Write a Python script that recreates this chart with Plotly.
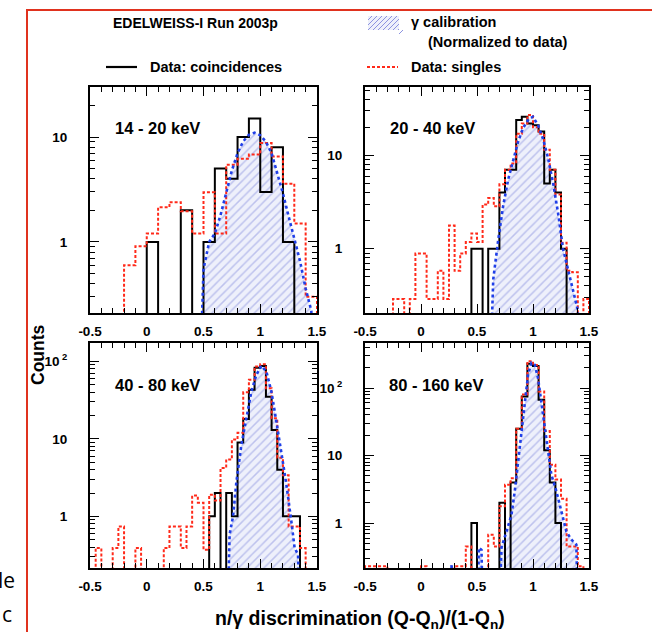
import numpy as np
import plotly.graph_objects as go

# ---------------- data ----------------
FLOOR = 0.01  # below every axis range: zero counts drop out of view

# 14 - 20 keV
tl_coinc_start, tl_coinc_width = 0.0, 0.1
tl_coinc = [1, 0, 0, 2, 0, 1, 5, 4, 10, 15, 3, 8, 1]
tl_single_start, tl_single_width = -0.2, 0.1
tl_single = [0.6, 0.91, 1.2, 2.14, 2.39, 1.96, 1.2, 2.97, 1.2, 5.45, 6.2, 6.8, 8.77, 6.54, 3.59, 1.5, 0.30]
tl_gamma_x = [0.45, 0.5, 0.55, 0.6, 0.65, 0.7, 0.75, 0.8, 0.85, 0.9, 0.95, 1.0, 1.05, 1.1, 1.15, 1.2, 1.25, 1.3, 1.35, 1.4, 1.45, 1.47]
tl_gamma_y = [0, 0.55, 1.0, 1.2, 1.8, 3.0, 4.8, 7.0, 9.1, 10.5, 11.0, 10.4, 9.0, 7.0, 4.6, 2.9, 1.75, 1.05, 0.66, 0.36, 0.22, 0]

# 20 - 40 keV
tr_coinc_start, tr_coinc_width = 0.45, 0.05
tr_coinc = [1, 1, 0, 1, 1, 4, 7, 7, 24, 26, 22, 21, 18, 5, 7, 4, 1]
tr_single_start, tr_single_width = -0.25, 0.05
tr_single = [0.29, 0.29, 0, 0.29, 0.89, 0.89, 0.29, 0.29, 0.58, 0.29, 1.77, 0.58, 0.89, 1.18,
             1.46, 1.18, 2.97, 3.5, 2.85, 4.9, 7.0, 8.2, 17, 22, 27, 20, 17, 11.5, 7.0, 3.8,
             1.16, 0.58, 0.56, 0, 0.29]
tr_gamma_x = [0.6, 0.645, 0.69, 0.733, 0.778, 0.822, 0.867, 0.91, 0.962, 1.0, 1.045, 1.09, 1.134, 1.179, 1.224, 1.268, 1.313, 1.357, 1.4, 1.42]
tr_gamma_y = [0, 0.47, 1.26, 2.85, 5.5, 9.0, 14, 19.5, 24.5, 26, 21, 15, 9.4, 5.1, 2.4, 1.0, 0.6, 0.37, 0.22, 0]

# 40 - 80 keV
bl_coinc_start, bl_coinc_width = 0.55, 0.05
bl_coinc = [1, 2, 0, 2, 1, 9, 18, 43, 83, 87, 35, 13, 4, 1, 1, 1]
bl_single_start, bl_single_width = -0.5, 0.05
bl_single = [0, 0.39, 0, 0, 0.39, 0.74, 0, 0, 0.39, 0,
             0, 0, 0, 0.39, 0.74, 0.74, 0.39, 0.74, 1.85, 1.5,
             0.37, 1.9, 1.6, 4.2, 5.4, 9.8, 12, 40, 58, 86,
             92, 45, 18.5, 5.7, 3.4, 0.74, 0.74, 0.39]
bl_gamma_x = [0.7, 0.73, 0.76, 0.79, 0.834, 0.878, 0.922, 0.966, 1.01, 1.054, 1.098, 1.142, 1.186, 1.23, 1.274, 1.303, 1.333, 1.356]
bl_gamma_y = [0, 0.58, 1.0, 2.8, 8.4, 18.6, 41, 67, 88, 74, 41, 16.8, 6.9, 2.6, 0.86, 0.39, 0.32, 0]

# 80 - 160 keV
br_coinc_start, br_coinc_width = 0.45, 0.05
br_coinc = [1, 0, 0, 0, 0, 2, 0, 4, 25, 75, 228, 212, 67, 12, 4, 1]
br_single_start, br_single_width = -0.5, 0.05
br_single = [0.23, 0.23, 0.23, 0.23, 0, 0, 0, 0, 0, 0,
             0.23, 0, 0, 0, 0, 0, 0.23, 0.23, 0.45, 0,
             0, 0, 0.67, 0.45, 1.77, 3.7, 4.6, 25, 80, 250,
             220, 89, 23, 7.3, 4.4, 2.3, 0.45, 0.45, 0.23]
br_gamma_x = [0.26, 0.273, 0.29, 0.5, 0.516, 0.54, 0.56, 0.689, 0.718, 0.763, 0.808, 0.837, 0.867, 0.897, 0.926, 0.956, 0.986,
              1.016, 1.045, 1.075, 1.105, 1.134, 1.164, 1.209, 1.253, 1.298, 1.342, 1.387, 1.41]
br_gamma_y = [0, 0.25, 0, 0, 0.43, 0.4, 0, 0, 0.43, 0.75, 1.33, 2.95, 8.2, 20, 57, 158, 235,
              220, 140, 63, 29, 12.9, 5.2, 2.95, 1.49, 0.75, 0.57, 0.48, 0]

panel_labels = ["14 - 20 keV", "20 - 40 keV", "40 - 80 keV", "80 - 160 keV"]
x_ticks = [-0.5, 0, 0.5, 1, 1.5]
x_ticktext = ["-0.5", "0", "0.5", "1", "1.5"]
y_ticks = [1, 10, 100]
y_ticktext = ["1", "10", "10<sup> 2</sup>"]
y_ranges = [(0.21, 30), (0.205, 54), (0.215, 173), (0.216, 464)]

# ---------------- layout geometry (pixels) ----------------
W, H = 652, 632
boxes = [(90, 317, 87, 313), (365, 589, 87, 313), (90, 317, 343, 568), (365, 589, 343, 568)]

def px(x):
    return x / W

def py(y):
    return 1 - y / H

FONT = "Liberation Sans, Arial, Helvetica, sans-serif"
BLACK = "#000000"
RED = "#ff2a1a"
BLUE = "#1f3fe8"
HATCH_FG = "#8c93e0"
HATCH_BG = "#eef0fb"


def steps(start, width, vals):
    n = len(vals)
    edges = start + width * np.arange(n + 1)
    x = np.concatenate([[edges[0]], edges[:-1], [edges[-1]]])
    y = np.concatenate([[FLOOR], np.maximum(np.array(vals, float), FLOOR), [FLOOR]])
    return x, y


panels = [
    (tl_coinc_start, tl_coinc_width, tl_coinc, tl_single_start, tl_single_width, tl_single, tl_gamma_x, tl_gamma_y),
    (tr_coinc_start, tr_coinc_width, tr_coinc, tr_single_start, tr_single_width, tr_single, tr_gamma_x, tr_gamma_y),
    (bl_coinc_start, bl_coinc_width, bl_coinc, bl_single_start, bl_single_width, bl_single, bl_gamma_x, bl_gamma_y),
    (br_coinc_start, br_coinc_width, br_coinc, br_single_start, br_single_width, br_single, br_gamma_x, br_gamma_y),
]

fig = go.Figure()
minor_vals = [v * m for m in (0.1, 1, 10, 100) for v in range(2, 10)]

for i, (cs, cw, cv, ss, sw, sv, gx, gy) in enumerate(panels):
    k = "" if i == 0 else str(i + 1)
    xa, ya = "x" + k, "y" + k
    gxa = np.array(gx, float)
    gya = np.maximum(np.array(gy, float), FLOOR)
    # hatched gamma calibration
    fig.add_trace(go.Scatter(
        x=np.concatenate([gxa, [gxa[-1], gxa[0]]]),
        y=np.concatenate([gya, [FLOOR, FLOOR]]),
        xaxis=xa, yaxis=ya, mode="lines", line=dict(width=0),
        fill="toself", fillcolor=HATCH_BG,
        fillpattern=dict(shape="/", fgcolor=HATCH_FG, bgcolor=HATCH_BG, size=6, solidity=0.25),
        hoverinfo="skip"))
    # coincidences
    x, y = steps(cs, cw, cv)
    fig.add_trace(go.Scatter(x=x, y=y, xaxis=xa, yaxis=ya, mode="lines",
                             line=dict(color=BLACK, width=2, shape="hv")))
    # singles
    x, y = steps(ss, sw, sv)
    fig.add_trace(go.Scatter(x=x, y=y, xaxis=xa, yaxis=ya, mode="lines",
                             line=dict(color=RED, width=2, dash="3px,2px", shape="hv")))
    # gamma curve
    fig.add_trace(go.Scatter(x=gxa, y=gya, xaxis=xa, yaxis=ya, mode="lines",
                             line=dict(color=BLUE, width=2.6, dash="3px,3px")))

    x0, x1, y0, y1 = boxes[i]
    lo, hi = y_ranges[i]
    tv = [t for t in y_ticks if lo <= t <= hi]
    tt = [y_ticktext[y_ticks.index(t)] for t in tv]
    fig.update_layout(**{
        "xaxis" + k: dict(domain=[px(x0), px(x1)], anchor=ya, range=[-0.5, 1.5], automargin=False,
                          tickvals=x_ticks, ticktext=x_ticktext, ticks="inside", ticklen=9,
                          tickwidth=1.3, tickcolor=BLACK,
                          minor=dict(dtick=0.1, tick0=0, ticks="inside", ticklen=5, tickwidth=1.1, tickcolor=BLACK),
                          showline=True, linewidth=2, linecolor=BLACK, mirror="ticks",
                          showgrid=False, zeroline=False, ticklabelstandoff=5,
                          tickfont=dict(family=FONT, size=13.5, color=BLACK, weight="bold")),
        "yaxis" + k: dict(domain=[py(y1), py(y0)], anchor=xa, type="log", automargin=False,
                          range=[np.log10(lo), np.log10(hi)],
                          tickmode="array", tickvals=tv, ticktext=tt, ticks="inside", ticklen=9,
                          tickwidth=1.3, tickcolor=BLACK,
                          minor=dict(tickmode="array", tickvals=minor_vals, ticks="inside", ticklen=5,
                                     tickwidth=1.1, tickcolor=BLACK),
                          showline=True, linewidth=2, linecolor=BLACK, mirror="ticks",
                          showgrid=False, zeroline=False, ticklabelstandoff=18,
                          tickfont=dict(family=FONT, size=13.5, color=BLACK, weight="bold")),
    })

annotations = []


def text(s, x, y, size, xanchor="left", weight="bold", angle=0, family=FONT):
    annotations.append(dict(text=s, x=px(x), y=py(y), xref="paper", yref="paper",
                            xanchor=xanchor, yanchor="middle", showarrow=False, textangle=angle,
                            font=dict(family=family, size=size, color=BLACK, weight=weight)))


label_pos = [(113, 128), (388, 128), (113, 385), (387, 385)]
for s, (x, y) in zip(panel_labels, label_pos):
    text(s, x, y, 16.5)

text("EDELWEISS-I Run 2003p", 195, 23, 14, xanchor="center")
text("γ calibration", 409, 22, 14.5)
text("(Normalized to data)", 426, 42, 14.5)
text("Data: coincidences", 148, 67, 14.5)
text("Data: singles", 409, 67, 14.5)
text("Counts", 38, 355, 17.5, xanchor="center", angle=-90)
text("n/γ discrimination (Q-Q<sub>n</sub>)/(1-Q<sub>n</sub>)", 360, 619, 19.5, xanchor="center")
text("le", 17, 580, 21, xanchor="right", weight="normal", family="Open Sans, sans-serif")
text("c", 14, 614, 21, xanchor="right", weight="normal", family="Open Sans, sans-serif")

shapes = [
    dict(type="rect", xref="paper", yref="paper", x0=px(27), x1=px(700), y0=py(700), y1=py(10),
         line=dict(color="#e0321e", width=2), fillcolor="rgba(0,0,0,0)", layer="below"),
    dict(type="line", xref="paper", yref="paper", x0=px(106), x1=px(137), y0=py(67), y1=py(67),
         line=dict(color=BLACK, width=2.2)),
    dict(type="line", xref="paper", yref="paper", x0=px(367), x1=px(398), y0=py(67), y1=py(67),
         line=dict(color=RED, width=2, dash="3px,2px")),
    dict(type="rect", xref="paper", yref="paper", x0=px(368), x1=px(399), y0=py(30), y1=py(16),
         line=dict(width=0), fillcolor=HATCH_BG),
]
# legend swatch hatch lines
for j in range(-2, 8):
    sx = 368 + j * 5
    shapes.append(dict(type="line", xref="paper", yref="paper",
                       x0=px(max(sx, 368)), y0=py(30 - max(0, 368 - sx)),
                       x1=px(min(sx + 14, 399)), y1=py(16 + max(0, sx + 14 - 399)),
                       line=dict(color=HATCH_FG, width=1)))

fig.update_layout(width=W, height=H, margin=dict(l=0, r=0, t=0, b=0, autoexpand=False),
                  paper_bgcolor="white", plot_bgcolor="white", showlegend=False,
                  annotations=annotations, shapes=shapes)

fig.write_html("out.html",
               post_script="document.body.style.margin='0px';document.body.style.overflow='hidden';")
